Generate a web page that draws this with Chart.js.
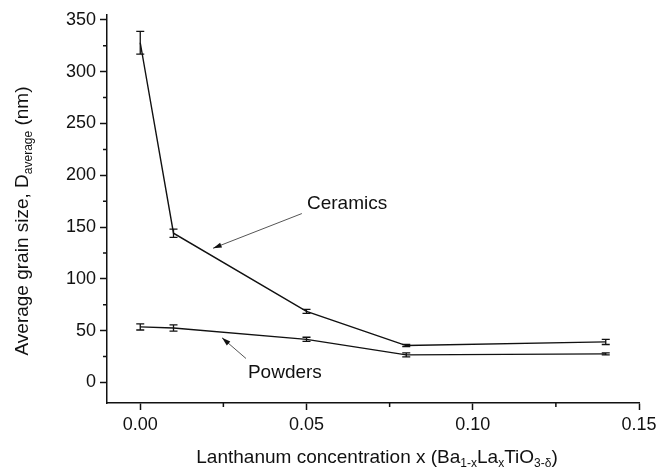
<!DOCTYPE html>
<html>
<head>
<meta charset="utf-8">
<script src="https://cdn.jsdelivr.net/npm/chart.js@4/dist/chart.umd.min.js"></script>
<style>
  html, body { margin: 0; padding: 0; background: #fff; }
  #wrap { width: 669px; height: 469px; position: relative; }
</style>
</head>
<body>
<div id="wrap"><canvas id="grainChart"></canvas></div>
<script>
// La concentration x and measured grain sizes (nm)
const concentrations = [0, 0.01, 0.05, 0.08, 0.14];
const ceramicsSize = [328, 144, 68.5, 35.5, 39];
const ceramicsErr = [11, 4, 2, 1, 2.5];
const powdersSize = [53.5, 52.5, 41.5, 26.5, 27.5];
const powdersErr = [3, 3, 2, 2, 1];

// axis ticks
const xTickValues = [0, 0.05, 0.10, 0.15];
const yTickValues = [0, 50, 100, 150, 200, 250, 300, 350];

// text annotations (data coords)
const notes = [
    { text: 'Ceramics', x: 0.0622, y: 172, from: [0.0486, 163], to: [0.0219, 129.5] },
    { text: 'Powders', x: 0.0435, y: 9.5, from: [0.0318, 23], to: [0.0246, 43] }
];

const FONT = '"Liberation Sans", Arial, sans-serif';

function toPoints(xs, ys) {
    return xs.map((x, i) => ({ x: x, y: ys[i] }));
}

// error bars, minor ticks, axis titles and arrows
const extrasPlugin = {
    id: 'extras',
    afterDatasetsDraw(chart) {
        const ctx = chart.ctx;
        const xs = chart.scales.x;
        const ys = chart.scales.y;
        const area = chart.chartArea;

        ctx.save();
        ctx.strokeStyle = '#111';
        ctx.lineWidth = 1.3;

        // error bars
        [[ceramicsSize, ceramicsErr], [powdersSize, powdersErr]].forEach(([vals, errs]) => {
            vals.forEach((v, i) => {
                const px = xs.getPixelForValue(concentrations[i]);
                const top = ys.getPixelForValue(v + errs[i]);
                const bot = ys.getPixelForValue(v - errs[i]);
                ctx.beginPath();
                ctx.moveTo(px, top); ctx.lineTo(px, bot);
                ctx.moveTo(px - 4, top); ctx.lineTo(px + 4, top);
                ctx.moveTo(px - 4, bot); ctx.lineTo(px + 4, bot);
                ctx.stroke();
            });
        });

        // minor ticks
        ctx.lineWidth = 1.5;
        ctx.beginPath();
        for (let v = 25; v < 355; v += 50) {
            const py = ys.getPixelForValue(v);
            ctx.moveTo(area.left, py); ctx.lineTo(area.left - 4, py);
        }
        for (let v = 0.025; v < 0.15; v += 0.05) {
            const px = xs.getPixelForValue(v);
            ctx.moveTo(px, area.bottom); ctx.lineTo(px, area.bottom + 4);
        }
        ctx.stroke();

        // annotations with arrows
        ctx.fillStyle = '#111';
        ctx.font = '19px ' + FONT;
        ctx.textAlign = 'center';
        ctx.textBaseline = 'middle';
        ctx.strokeStyle = '#555';
        ctx.lineWidth = 1;
        notes.forEach(n => {
            ctx.fillText(n.text, xs.getPixelForValue(n.x), ys.getPixelForValue(n.y));
            const x1 = xs.getPixelForValue(n.from[0]), y1 = ys.getPixelForValue(n.from[1]);
            const x2 = xs.getPixelForValue(n.to[0]), y2 = ys.getPixelForValue(n.to[1]);
            ctx.beginPath();
            ctx.moveTo(x1, y1); ctx.lineTo(x2, y2);
            ctx.stroke();
            const ang = Math.atan2(y2 - y1, x2 - x1);
            ctx.beginPath();
            ctx.moveTo(x2, y2);
            ctx.lineTo(x2 - 9 * Math.cos(ang - 0.3), y2 - 9 * Math.sin(ang - 0.3));
            ctx.lineTo(x2 - 9 * Math.cos(ang + 0.3), y2 - 9 * Math.sin(ang + 0.3));
            ctx.closePath();
            ctx.fill();
        });

        // x axis title with subscripts
        const big = '19px ' + FONT, small = '12px ' + FONT;
        const xParts = [
            ['Lanthanum concentration x (Ba', big, 0], ['1-x', small, 6],
            ['La', big, 0], ['x', small, 6], ['TiO', big, 0], ['3-\u03b4', small, 6], [')', big, 0]
        ];
        drawRich(ctx, xParts, 377, 458);

        // y axis title (rotated)
        const yParts = [
            ['Average grain size, D', big, 0], ['average', small, 6], [' (nm)', big, 0]
        ];
        ctx.save();
        ctx.translate(23, 221);
        ctx.rotate(-Math.PI / 2);
        drawRich(ctx, yParts, 0, 0);
        ctx.restore();

        ctx.restore();
    }
};

function drawRich(ctx, parts, cx, cy) {
    ctx.textAlign = 'left';
    ctx.textBaseline = 'middle';
    ctx.fillStyle = '#111';
    let total = 0;
    parts.forEach(p => { ctx.font = p[1]; total += ctx.measureText(p[0]).width; });
    let x = cx - total / 2;
    parts.forEach(p => {
        ctx.font = p[1];
        ctx.fillText(p[0], x, cy + p[2]);
        x += ctx.measureText(p[0]).width;
    });
}

const lineStyle = {
    borderColor: '#111',
    borderWidth: 1.4,
    pointRadius: 0,
    tension: 0,
    fill: false
};

new Chart(document.getElementById('grainChart'), {
    type: 'line',
    data: {
        datasets: [
            Object.assign({ label: 'Ceramics', data: toPoints(concentrations, ceramicsSize) }, lineStyle),
            Object.assign({ label: 'Powders', data: toPoints(concentrations, powdersSize) }, lineStyle)
        ]
    },
    options: {
        responsive: true,
        maintainAspectRatio: false,
        animation: false,
        layout: { padding: { top: 10, right: 30, left: 0, bottom: 0 } },
        plugins: {
            legend: { display: false },
            tooltip: { enabled: false }
        },
        scales: {
            x: {
                type: 'linear',
                min: -0.01,
                max: 0.15,
                afterBuildTicks: axis => { axis.ticks = xTickValues.map(v => ({ value: v })); },
                afterFit: axis => { axis.height = 66; },
                border: { color: '#111', width: 1.5 },
                grid: { drawOnChartArea: false, tickLength: 7, tickColor: '#111', tickWidth: 1.5 },
                ticks: {
                    color: '#111',
                    padding: 4,
                    maxRotation: 0,
                    font: { family: FONT, size: 18 },
                    callback: v => v.toFixed(2)
                }
            },
            y: {
                type: 'linear',
                min: -20,
                max: 355,
                afterBuildTicks: axis => { axis.ticks = yTickValues.map(v => ({ value: v })); },
                afterFit: axis => { axis.width = 107; },
                border: { color: '#111', width: 1.5 },
                grid: { drawOnChartArea: false, tickLength: 7, tickColor: '#111', tickWidth: 1.5 },
                ticks: {
                    color: '#111',
                    padding: 4,
                    font: { family: FONT, size: 18 },
                    callback: v => String(v)
                }
            }
        }
    },
    plugins: [extrasPlugin]
});
</script>
</body>
</html>
